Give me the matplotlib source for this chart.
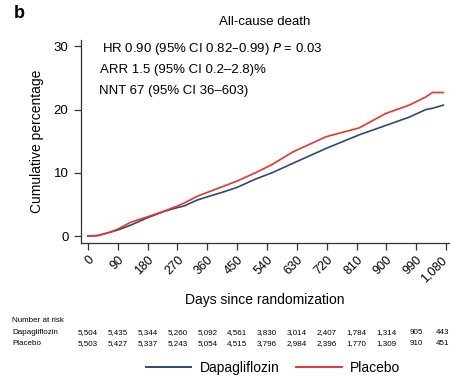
import matplotlib
matplotlib.use("Agg")
import matplotlib.pyplot as plt
import matplotlib.transforms as mtransforms

plt.rcParams['font.family'] = ['Liberation Sans', 'DejaVu Sans']

# Kaplan-Meier style cumulative incidence (%)
dapa_days = [0, 30, 60, 90, 130, 180, 230, 270, 290, 330, 360, 410, 450, 505,
             555, 618, 718, 818, 899, 969, 1019, 1039, 1072]
dapa_pct = [0, 0.1, 0.5, 0.95, 1.75, 2.9, 3.9, 4.5, 4.75, 5.7, 6.2, 7.0, 7.7, 9.0,
            10.0, 11.5, 13.85, 16.0, 17.5, 18.8, 20.0, 20.2, 20.7]
plac_days = [0, 30, 60, 90, 130, 180, 230, 270, 290, 330, 360, 410, 450, 505,
             555, 618, 718, 818, 899, 969, 1019, 1039, 1072]
plac_pct = [0, 0.05, 0.5, 1.1, 2.2, 3.05, 3.95, 4.75, 5.2, 6.3, 6.9, 7.9, 8.7, 10.0,
            11.3, 13.3, 15.7, 17.1, 19.4, 20.7, 22.0, 22.7, 22.7]

xticks = list(range(0, 1081, 90))
xtick_labels = ['0', '90', '180', '270', '360', '450', '540', '630', '720',
                '810', '900', '990', '1,080']
yticks = [0, 10, 20, 30]

risk_dapa = ['5,504', '5,435', '5,344', '5,260', '5,092', '4,561', '3,830',
             '3,014', '2,407', '1,784', '1,314', '905', '443']
risk_plac = ['5,503', '5,427', '5,337', '5,243', '5,054', '4,515', '3,796',
             '2,984', '2,396', '1,770', '1,309', '910', '451']

blue = '#2d4a72'
red = '#e8362f'

W, H = 450, 376
fig = plt.figure(figsize=(W / 100, H / 100), dpi=100)
ax = fig.add_axes([81 / W, 1 - 243 / H, (449 - 81) / W, (243 - 40) / H])

ax.plot(dapa_days, dapa_pct, color=blue, lw=1.2, label='Dapagliflozin')
ax.plot(plac_days, plac_pct, color=red, lw=1.2, label='Placebo')

ax.set_xlim(-21, 1089)
ax.set_ylim(-1.1, 31)
for s in ['top', 'right']:
    ax.spines[s].set_visible(False)
for s in ['left', 'bottom']:
    ax.spines[s].set_linewidth(0.9)
    ax.spines[s].set_color('#333333')

ax.set_xticks(xticks)
ax.set_xticklabels(xtick_labels, rotation=45, ha='right', va='top',
                   rotation_mode='anchor', fontsize=9)
ax.set_yticks(yticks)
ax.set_yticklabels([str(v) for v in yticks], fontsize=9.5)
ax.tick_params(axis='both', direction='out', length=5, width=0.9, color='#333333')
ax.tick_params(axis='y', pad=4)
ax.tick_params(axis='x', pad=3)

# keep the last rotated label inside the canvas
last = ax.get_xticklabels()[-1]
last.set_transform(last.get_transform() +
                   mtransforms.ScaledTranslation(-5 / 100, 0, fig.dpi_scale_trans))

ax.set_ylabel('Cumulative percentage', fontsize=10, labelpad=7)
fig.text(265 / W, 1 - 300 / H, 'Days since randomization', ha='center',
         va='center', fontsize=10)

fig.text(14 / W, 1 - 13 / H, 'b', fontsize=13, fontweight='bold',
         ha='left', va='center')
fig.text(265 / W, 1 - 22 / H, 'All-cause death', ha='center', va='center',
         fontsize=9.5)

fig.text(102 / W, 1 - 49 / H,
         r'HR 0.90 (95% CI 0.82–0.99) $\it{P}$ = 0.03',
         ha='left', va='center', fontsize=9.5)
fig.text(100 / W, 1 - 70 / H, 'ARR 1.5 (95% CI 0.2–2.8)%',
         ha='left', va='center', fontsize=9.5)
fig.text(99 / W, 1 - 91 / H, 'NNT 67 (95% CI 36–603)',
         ha='left', va='center', fontsize=9.5)

# Number at risk table
fs_tab = 5.8
fig.text(12 / W, 1 - 321 / H, 'Number at risk', fontsize=fs_tab,
         ha='left', va='center')
fig.text(12 / W, 1 - 332.5 / H, 'Dapagliflozin', fontsize=fs_tab,
         ha='left', va='center')
fig.text(12 / W, 1 - 343.5 / H, 'Placebo', fontsize=fs_tab,
         ha='left', va='center')
n = len(xticks)
for i, (d, a, b) in enumerate(zip(xticks, risk_dapa, risk_plac)):
    x_fig = fig.transFigure.inverted().transform(
        ax.transData.transform((d, 0)))[0]
    ha = 'center'
    if i == n - 1:
        x_fig, ha = 449 / W, 'right'
    fig.text(x_fig, 1 - 332.5 / H, a, fontsize=fs_tab, ha=ha, va='center')
    fig.text(x_fig, 1 - 343.5 / H, b, fontsize=fs_tab, ha=ha, va='center')

leg = fig.legend(loc='center', bbox_to_anchor=(273 / W, 1 - 368 / H),
                 ncol=2, frameon=False, fontsize=10, handlelength=3.3,
                 columnspacing=1.2, handletextpad=0.6)
for line in leg.get_lines():
    line.set_linewidth(1.4)

fig.savefig('out.png', dpi=100)
